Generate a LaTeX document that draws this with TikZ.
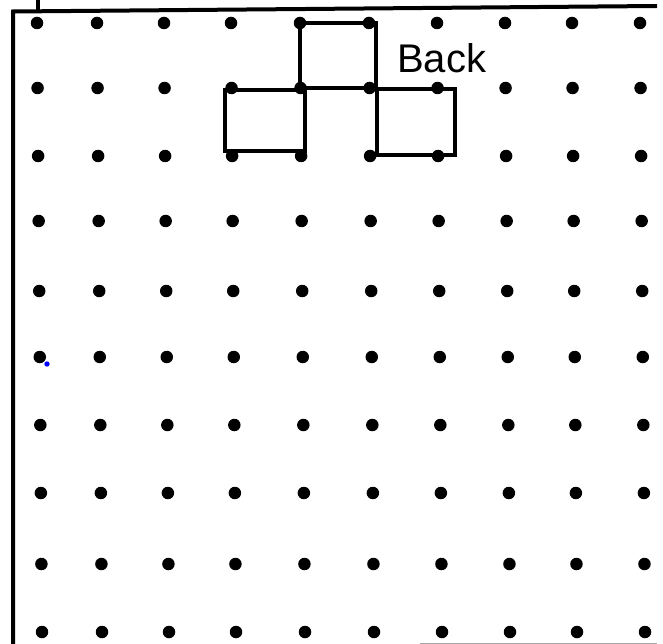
\documentclass[tikz,border=0pt]{standalone}
\usepackage{fontspec}
\setmainfont{Liberation Sans}
\usetikzlibrary{positioning}

\begin{document}
\begin{tikzpicture}[x=1pt, y=-1pt,
			dot/.style={circle, fill=black, inner sep=0pt, minimum size=12.5pt},
			frame/.style={line width=4pt},
			sq/.style={line width=4.2pt}]
			
			\useasboundingbox (0,0) rectangle (663,644);
			
			% border
			\draw[frame] (38,0) -- (38,11);
			\draw[frame] (13,644) -- (13,11.5) -- (657,6);
			\draw[gray!70, line width=1pt] (420,643) -- (657,643);
			
			% dot grid
			\foreach \y [count=\r] in {23,88,156,221,291,357,425,493,564,632}
			\foreach \x [count=\c] in {37,97,164,231,300,369,437,505,572,640}
			\node[dot] (d\r-\c) at ({\x+5*(\r-1)/9},\y) {};
			
			\fill[blue] (47,364) circle (2.7pt);
			
			% squares
			\draw[sq] (225,90) rectangle (305,151);
			\draw[sq] (300,23) rectangle (376,88);
			\draw[sq] (377,89) rectangle (455,155);
			
			\node[font=\fontsize{40}{48}\selectfont, inner sep=0pt, anchor=base west] (back) at (397,73) {Back};
			
		\end{tikzpicture}
\end{document}
